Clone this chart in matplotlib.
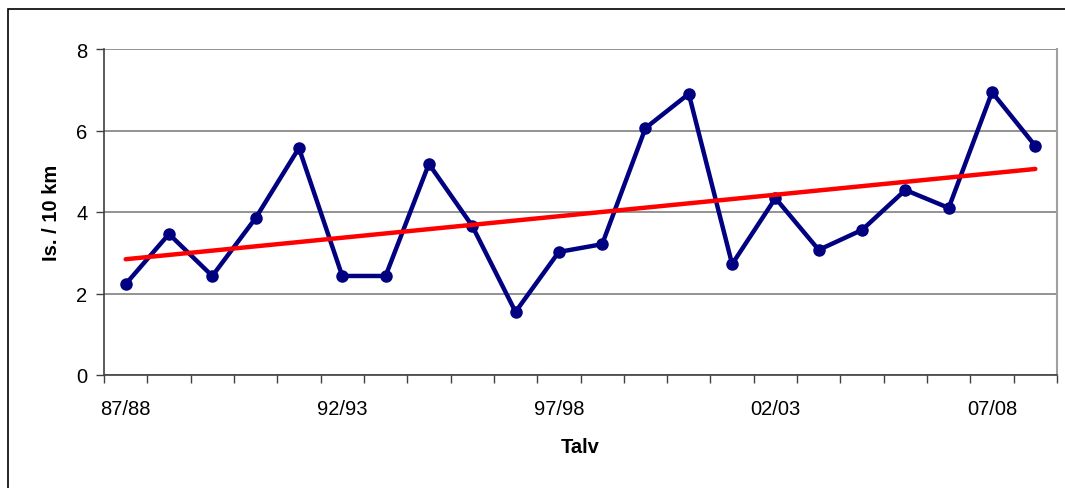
#!/usr/bin/env python
"""Winter counts per 10 km with a linear trend line."""

import matplotlib

matplotlib.use("Agg")

import matplotlib.pyplot as plt
import numpy as np
from matplotlib.patches import Rectangle
from matplotlib.ticker import FixedLocator, MultipleLocator

winters = [
    "87/88", "88/89", "89/90", "90/91", "91/92", "92/93", "93/94", "94/95",
    "95/96", "96/97", "97/98", "98/99", "99/00", "00/01", "01/02", "02/03",
    "03/04", "04/05", "05/06", "06/07", "07/08", "08/09",
]
counts = [
    2.23, 3.46, 2.43, 3.85, 5.57, 2.43, 2.43, 5.18, 3.66, 1.55, 3.02,
    3.21, 6.06, 6.90, 2.72, 4.34, 3.07, 3.56, 4.54, 4.10, 6.94, 5.62,
]
label_every = 5

plt.rcParams["font.family"] = ["Liberation Sans", "DejaVu Sans"]

fig = plt.figure(figsize=(10.65, 4.89), dpi=100)
ax = fig.add_axes([104 / 1065, 1 - 376 / 489, (1057 - 104) / 1065, (376 - 50) / 489])

x = np.arange(len(counts))
slope, intercept = np.polyfit(x, counts, 1)

ax.plot(x, counts, color="#000080", lw=3.2, marker="o", ms=8, zorder=3)
ax.plot(x, slope * x + intercept, color="#ff0000", lw=3.2, solid_capstyle="round", zorder=4)

ax.set_xlim(-0.5, len(counts) - 0.5)
ax.set_ylim(0, 8)
ax.yaxis.set_major_locator(MultipleLocator(2))
ax.set_xticks(x[::label_every])
ax.set_xticklabels(winters[::label_every])
ax.xaxis.set_minor_locator(FixedLocator(np.arange(-0.5, len(counts), 1.0)))
ax.tick_params(axis="x", which="major", length=0, pad=17, labelsize=14.5)
ax.tick_params(axis="x", which="minor", length=6, width=1, color="#404040")
ax.tick_params(axis="y", length=6, width=1, color="#404040", pad=6, labelsize=14.5)

ax.grid(axis="y", color="#808080", lw=1.2)
ax.set_axisbelow(True)
for side in ("left", "bottom"):
    ax.spines[side].set_color("#404040")
    ax.spines[side].set_linewidth(1.2)
ax.spines["top"].set_visible(False)
ax.spines["right"].set_color("#a0a0a0")
ax.spines["right"].set_linewidth(1.5)

ax.set_xlabel("Talv", fontsize=14.5, fontweight="bold", labelpad=14)
ax.set_ylabel("Is. / 10 km", fontsize=14.5, fontweight="bold", labelpad=11)

# outer chart frame
fig.patches.append(Rectangle((8 / 1065, -0.05), 1.1, 1 - 10 / 489 + 0.05,
                             transform=fig.transFigure, fill=False,
                             edgecolor="black", lw=1.2))

fig.savefig("out.png", dpi=100)
